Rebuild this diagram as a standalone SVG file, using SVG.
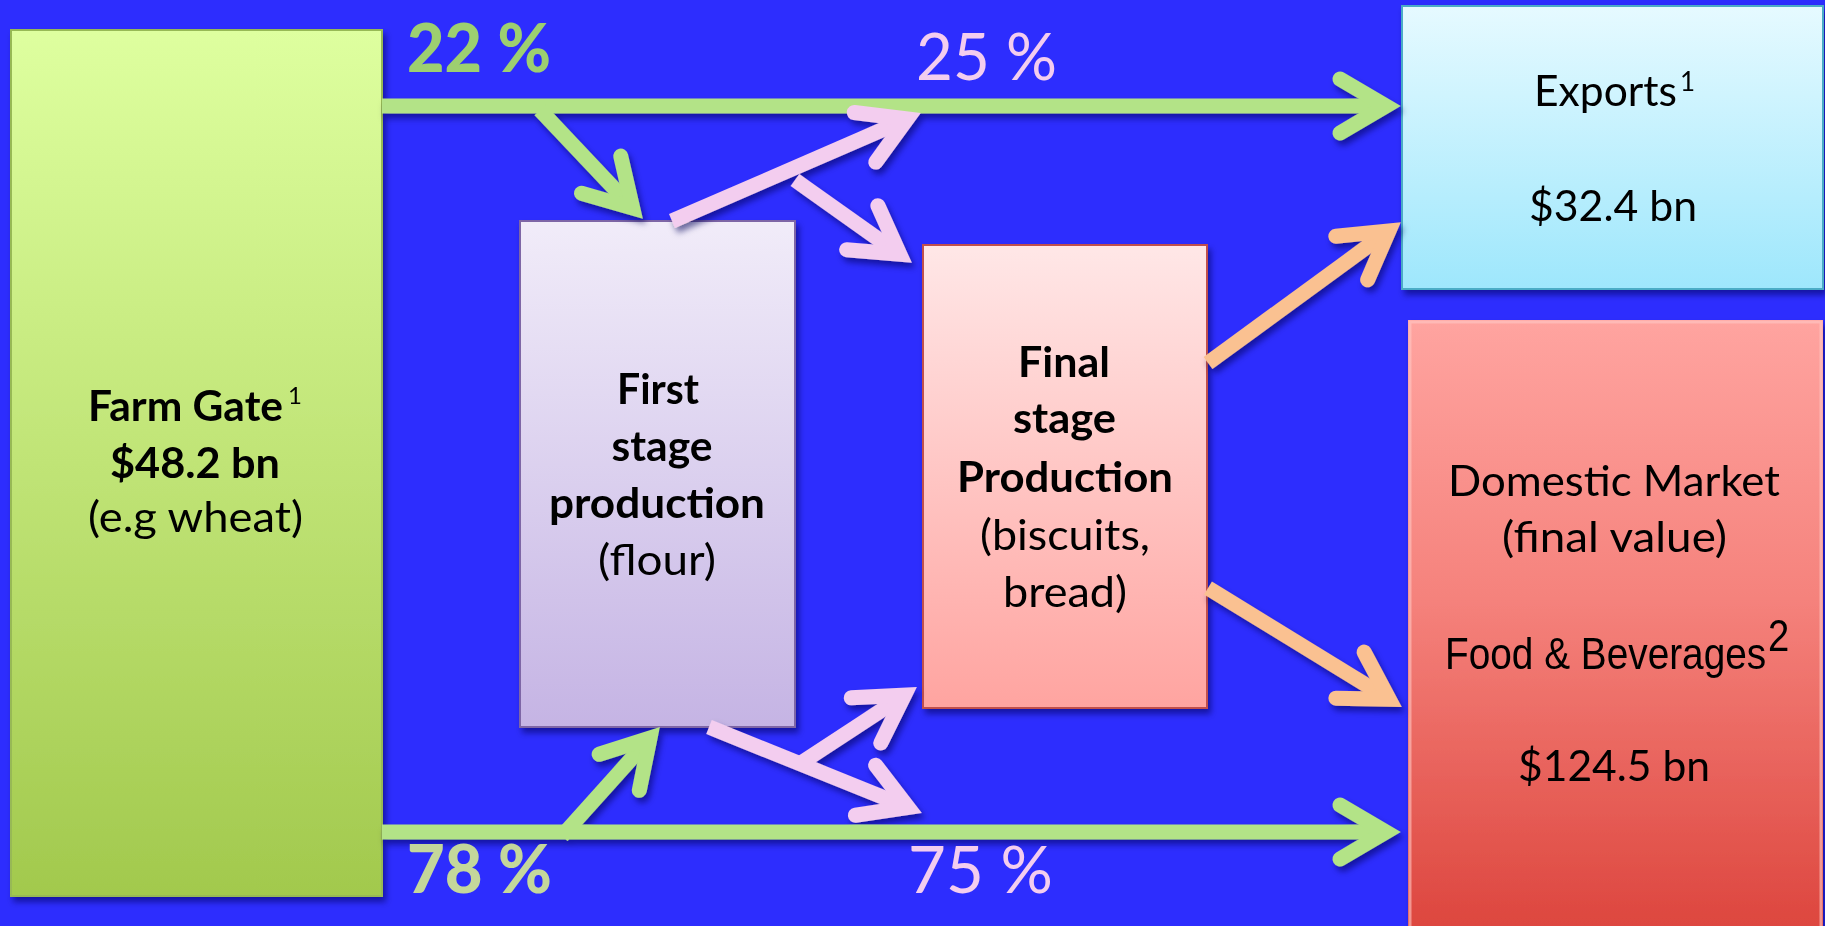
<svg xmlns="http://www.w3.org/2000/svg" width="1825" height="926" viewBox="0 0 1825 926">
<defs>
<style>
.t{font-family:Lato,"Open Sans","Liberation Sans",sans-serif;fill:#000;font-size:42px}
.b{font-weight:bold}
.sup{font-family:Lato,"Liberation Sans",sans-serif;fill:#000}
.pct{font-family:Lato,"Liberation Sans",sans-serif;font-size:66px}
.heavy{font-weight:900}
.narrow{font-family:"Liberation Sans",Arial,sans-serif;fill:#000;font-size:45px}
.cg{stroke:#B3E387;stroke-width:15;fill:none}
.cp{stroke:#F3CDEF;stroke-width:15;fill:none}
.co{stroke:#FAC191;stroke-width:15;fill:none}
</style>
<linearGradient id="gFarm" x1="0" y1="0" x2="0" y2="1"><stop offset="0" stop-color="#DEFF9F"/><stop offset="1" stop-color="#A2C94D"/></linearGradient>
<linearGradient id="gFirst" x1="0" y1="0" x2="0" y2="1"><stop offset="0" stop-color="#F1ECF9"/><stop offset="1" stop-color="#C5B4E4"/></linearGradient>
<linearGradient id="gFinal" x1="0" y1="0" x2="0" y2="1"><stop offset="0" stop-color="#FFE7E7"/><stop offset="1" stop-color="#FFA4A0"/></linearGradient>
<linearGradient id="gExp" x1="0" y1="0" x2="0" y2="1"><stop offset="0" stop-color="#E6FAFF"/><stop offset="1" stop-color="#9EE7FC"/></linearGradient>
<linearGradient id="gDom" x1="0" y1="0" x2="0" y2="1"><stop offset="0" stop-color="#FFA4A0"/><stop offset="0.45" stop-color="#F5827C"/><stop offset="1" stop-color="#DC443C"/></linearGradient>
<filter id="sh" x="-20%" y="-20%" width="140%" height="140%"><feDropShadow dx="3" dy="5" stdDeviation="3" flood-color="#000055" flood-opacity="0.55"/></filter>
<marker id="mG" markerUnits="userSpaceOnUse" orient="auto" viewBox="-80 -50 100 100" markerWidth="100" markerHeight="100" refX="0" refY="0"><path d="M-46,-27 L0,0 L-46,27" fill="none" stroke="#B3E387" stroke-width="15" stroke-linecap="round" stroke-linejoin="miter"/></marker>
<marker id="mP" markerUnits="userSpaceOnUse" orient="auto" viewBox="-80 -50 100 100" markerWidth="100" markerHeight="100" refX="0" refY="0"><path d="M-46,-27 L0,0 L-46,27" fill="none" stroke="#F3CDEF" stroke-width="15" stroke-linecap="round" stroke-linejoin="miter"/></marker>
<marker id="mO" markerUnits="userSpaceOnUse" orient="auto" viewBox="-80 -50 100 100" markerWidth="100" markerHeight="100" refX="0" refY="0"><path d="M-46,-27 L0,0 L-46,27" fill="none" stroke="#FAC191" stroke-width="15" stroke-linecap="round" stroke-linejoin="miter"/></marker>
</defs>
<rect x="0" y="0" width="1825" height="926" fill="#2D2DFE"/>

<g id="farm-gate" filter="url(#sh)">
<rect x="11" y="30" width="371" height="866" fill="url(#gFarm)" stroke="#97B955" stroke-width="2"/>
<text class="t b" x="88" y="421" textLength="195" lengthAdjust="spacingAndGlyphs">Farm Gate</text>
<text class="sup" x="288" y="404" font-size="24">1</text>
<text class="t b" x="195" y="478" text-anchor="middle" textLength="170" lengthAdjust="spacingAndGlyphs">$48.2 bn</text>
<text class="t" x="195.5" y="532" text-anchor="middle" textLength="215" lengthAdjust="spacingAndGlyphs">(e.g wheat)</text>
</g>

<g id="first-stage" filter="url(#sh)">
<rect x="520" y="221" width="275" height="506" fill="url(#gFirst)" stroke="#7E66A6" stroke-width="2"/>
<text class="t b" x="658" y="404" text-anchor="middle" textLength="82" lengthAdjust="spacingAndGlyphs">First</text>
<text class="t b" x="662" y="461" text-anchor="middle" textLength="101" lengthAdjust="spacingAndGlyphs">stage</text>
<text class="t b" x="657" y="518" text-anchor="middle" textLength="216" lengthAdjust="spacingAndGlyphs">production</text>
<text class="t" x="657" y="575" text-anchor="middle" textLength="118" lengthAdjust="spacingAndGlyphs">(flour)</text>
</g>

<g id="final-stage" filter="url(#sh)">
<rect x="923" y="245" width="284" height="463" fill="url(#gFinal)" stroke="#C0504D" stroke-width="2"/>
<text class="t b" x="1064" y="377" text-anchor="middle" textLength="92" lengthAdjust="spacingAndGlyphs">Final</text>
<text class="t b" x="1064.5" y="433" text-anchor="middle" textLength="103" lengthAdjust="spacingAndGlyphs">stage</text>
<text class="t b" x="1065" y="492" text-anchor="middle" textLength="216" lengthAdjust="spacingAndGlyphs">Production</text>
<text class="t" x="1065" y="550" text-anchor="middle" textLength="170" lengthAdjust="spacingAndGlyphs">(biscuits,</text>
<text class="t" x="1065" y="607" text-anchor="middle" textLength="124" lengthAdjust="spacingAndGlyphs">bread)</text>
</g>

<g id="exports" filter="url(#sh)">
<rect x="1402" y="6" width="421" height="283" fill="url(#gExp)" stroke="#4BACC6" stroke-width="2"/>
<text class="t" x="1534" y="106" textLength="143" lengthAdjust="spacingAndGlyphs">Exports</text>
<text class="sup" x="1680" y="91" font-size="26">1</text>
<text class="t" x="1613" y="221" text-anchor="middle" textLength="168" lengthAdjust="spacingAndGlyphs">$32.4 bn</text>
</g>

<g id="domestic-market" filter="url(#sh)">
<rect x="1408" y="320" width="415" height="620" fill="url(#gDom)"/>
<rect x="1410" y="322" width="411" height="616" fill="none" stroke="#FFC8C4" stroke-opacity="0.6" stroke-width="3"/>
<text class="t" x="1614" y="496" text-anchor="middle" textLength="332" lengthAdjust="spacingAndGlyphs">Domestic Market</text>
<text class="t" x="1614.5" y="552" text-anchor="middle" textLength="225" lengthAdjust="spacingAndGlyphs">(final value)</text>
<text class="narrow" transform="translate(1445,669) scale(0.862,1)" x="0" y="0">Food &amp; Beverages</text>
<text class="narrow" transform="translate(1768,651) scale(0.85,1)" x="0" y="0" font-size="24">2</text>
<text class="t" x="1614" y="781" text-anchor="middle" textLength="192" lengthAdjust="spacingAndGlyphs">$124.5 bn</text>
</g>

<g id="connectors" filter="url(#sh)">
<line class="cg" x1="382" y1="106" x2="1386" y2="106" marker-end="url(#mG)"/>
<line class="cg" x1="540" y1="110" x2="632.7" y2="208.1" marker-end="url(#mG)"/>
<line class="cg" x1="382" y1="832" x2="1386" y2="832" marker-end="url(#mG)"/>
<line class="cg" x1="562" y1="836" x2="650" y2="738.1" marker-end="url(#mG)"/>
<line class="cp" x1="672" y1="221" x2="907.2" y2="119" marker-end="url(#mP)"/>
<line class="cp" x1="795" y1="180" x2="899.8" y2="254.3" marker-end="url(#mP)"/>
<line class="cp" x1="709" y1="727" x2="908.1" y2="807.4" marker-end="url(#mP)"/>
<line class="cp" x1="801" y1="763" x2="904.5" y2="695.2" marker-end="url(#mP)"/>
<line class="co" x1="1208" y1="363" x2="1388.9" y2="230.9" marker-end="url(#mO)"/>
<line class="co" x1="1208" y1="588" x2="1389.2" y2="699.2" marker-end="url(#mO)"/>
</g>

<g id="labels">
<text class="pct heavy" x="407" y="72" fill="#9DCF70" textLength="144" lengthAdjust="spacingAndGlyphs">22 %</text>
<text class="pct" x="916" y="80" fill="#F3CDEF" textLength="141" lengthAdjust="spacingAndGlyphs">25 %</text>
<text class="pct heavy" x="407" y="893" fill="#C4D79B" textLength="145" lengthAdjust="spacingAndGlyphs">78 %</text>
<text class="pct" x="908" y="893" fill="#F3CDEF" textLength="145" lengthAdjust="spacingAndGlyphs">75 %</text>
</g>
</svg>
